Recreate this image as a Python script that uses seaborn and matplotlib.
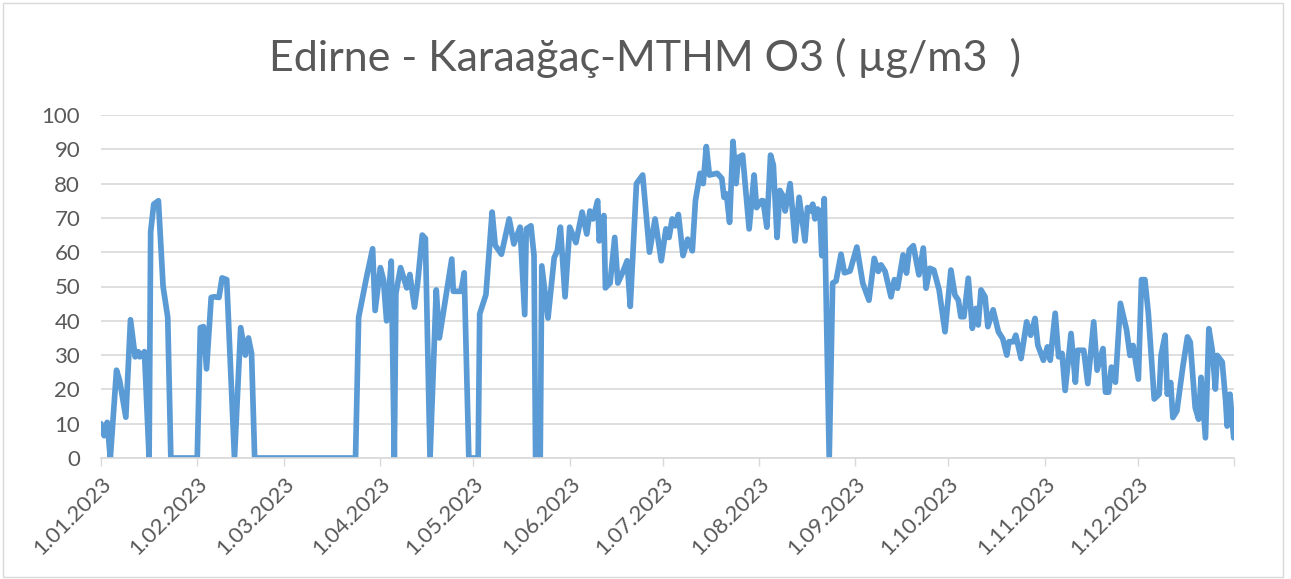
import matplotlib
matplotlib.use("Agg")
import matplotlib.pyplot as plt
import matplotlib.patches as mpatches
import seaborn as sns
import pandas as pd
import numpy as np

title = "Edirne - Karaağaç-MTHM O3 ( µg/m3  )"

# day offset from 1 Jan 2023, value (µg/m3)
days = [0, 1, 2, 3, 5, 6, 8, 9.5, 11, 12, 12.5, 14, 15.5, 16, 17, 18.5, 20, 21.5, 22.5,
        31, 32, 33, 34, 35.5, 36.5, 38, 39, 40.5, 43, 45, 46.5, 47.5, 48.5, 49.5,
        82, 83, 85.5, 87.5, 88.3, 90, 91, 92, 93.5, 94.5, 95, 96.5, 98.5, 99.5, 101, 102,
        103.5, 104.5, 106, 108, 109, 113, 113.5, 116, 117, 118.5, 121.5, 122, 124, 126, 127,
        129, 131.5, 133, 135, 136.5, 137, 138.5, 139.5, 140, 141.5, 142, 144, 146, 147, 148,
        149.5, 151, 153, 155, 156.5, 157.5, 158.5, 160, 160.5, 162, 162.5, 164, 165.5, 166.5,
        168, 169.5, 170.5, 172.5, 174.5, 176.7, 178.5, 180.5, 182, 183, 184, 185, 186, 187.5,
        189, 190.5, 191.5, 193, 194, 195, 196, 198.5, 200, 200.7, 201.5, 202.5, 203.6, 204.6,
        205.3, 206.7, 208.8, 210.4, 211.2, 212.8, 213.3, 214.5, 215.7, 216.6, 217.8, 218.7,
        219.6, 220.4, 222, 223.6, 224.9, 226.8, 227.6, 228.4, 229.3, 230, 230.8, 231.6, 232.2,
        233, 234.6, 235.7, 236.8, 238.4, 239.5, 241.3, 243.5, 245.4, 247.4, 249.1, 250.4,
        251.3, 252.6, 254.5, 255.6, 256.6, 258.4, 259.5, 260.4, 261.7, 263.5, 264.9, 265.8,
        267, 268.3, 270, 271.9, 273.8, 275.1, 276.2, 277, 278, 279.4, 280.7, 281.8, 282.6,
        283.5, 284.8, 285.7, 287.4, 289.1, 290.5, 291.8, 292.5, 293.9, 294.7, 296.4, 298.2,
        299.5, 300.9, 301.8, 303.6, 304.9, 305.8, 307.4, 308.5, 309.6, 310.6, 312.5, 313.9,
        314.6, 316.6, 317.9, 319.8, 320.9, 322.8, 323.6, 324.6, 325.5, 326.8, 328.4, 330.4,
        331.5, 332.5, 334.2, 335.2, 336.3, 337.4, 339.3, 340.9, 341.5, 342.8, 343.5, 344.6,
        345.3, 346.6, 348.5, 350, 350.9, 352.5, 353.6, 354.4, 355.8, 356.9, 358, 359, 359.6,
        361.2, 362.3, 362.8, 363.7, 364.9]
o3 = [10, 6.5, 10.4, 0, 25.6, 22.6, 11.9, 40.3, 29.5, 31, 29.5, 31, 0, 66, 74, 75, 50, 41, 0,
      0, 38, 38.3, 26, 46.8, 47, 46.8, 52.5, 52, 0, 38, 30, 35, 30.5, 0,
      0, 41, 52.5, 61, 43, 55.5, 52, 40, 57.4, 0, 48, 55.5, 49.6, 53.5, 44, 51,
      65, 64, 0, 49, 35, 58, 48.6, 48.6, 54, 0, 0, 42, 47.6, 71.7, 62,
      59.4, 69.7, 62.4, 67.3, 41.8, 66.8, 67.7, 59, 0, 0, 56, 40.8, 58.4, 60.4, 67.3,
      47, 67.3, 62.8, 71.7, 65.3, 72, 69.7, 75, 63.3, 70.7, 49.6, 51, 64.3, 51,
      54, 57.5, 44.2, 80, 82.5, 60, 69.7, 57.5, 66.8, 64.3, 69.7, 67.7, 71, 59,
      63.8, 60.4, 75, 83, 80, 90.8, 82.5, 83, 81.5, 76, 77, 68.7, 92.3, 80,
      87.6, 88.3, 66.8, 82.5, 73, 75, 75, 67.3, 88.3, 85.4, 64.3, 78,
      76.6, 72, 80, 63.3, 76, 63.3, 73, 72, 74, 69.7, 72.6, 72, 59,
      75.6, 0, 51, 51.6, 59.4, 54, 54.5, 61.5, 51, 46, 58.2, 54.4,
      56.3, 54.4, 47, 52, 49.5, 59.2, 53.9, 60.7, 61.9, 53.4, 61.2, 49.5,
      55.3, 54.8, 49, 36.8, 54.8, 47.5, 46, 41.2, 41.2, 52.4, 37.8, 43.6, 38.8,
      49, 47, 38.3, 43.2, 36.8, 34.8, 30, 33.9, 33.9, 35.8, 29, 39.7,
      35.8, 40.7, 32.9, 28.5, 32.4, 28.5, 42.2, 29.5, 30.5, 19.7, 36.3, 22.1,
      31.4, 31.4, 21.7, 39.7, 25.6, 31.9, 19.2, 19.2, 26.5, 22.1, 45.1, 37.3,
      29.9, 32.8, 23, 52, 52, 42.2, 17.2, 18.6, 29.9, 35.8, 18.6, 22,
      11.8, 13.7, 26.5, 35.3, 33.8, 14.7, 11.3, 23.5, 5.9, 37.7, 31.4, 20.1, 29.9,
      28, 16.7, 9.3, 18.6, 5.9]

tick_labels = [f"1.{m:02d}.2023" for m in range(1, 13)]

start = pd.Timestamp("2023-01-01")
df = pd.DataFrame({"date": start + pd.to_timedelta(days, unit="D"), "o3": o3})

sns.set_theme(style="white")
plt.rcParams["font.family"] = ["Lato", "DejaVu Sans"]

txt = "#595959"
fig = plt.figure(figsize=(12.91, 5.79), dpi=100)
ax = fig.add_axes([101 / 1291, 1 - 458 / 579, (1234 - 101) / 1291, (458 - 115) / 579])

sns.lineplot(data=df, x="date", y="o3", ax=ax, color="#5B9BD5", linewidth=4.1)

ax.set_ylim(0, 100)
ax.set_yticks(range(0, 101, 10))
ax.set_xlim(start, pd.Timestamp("2024-01-01"))
ticks = [pd.Timestamp(2023, m, 1) for m in range(1, 13)] + [pd.Timestamp("2024-01-01")]
ax.set_xticks(ticks)
ax.set_xticklabels(tick_labels + [""], rotation=45, ha="right", va="top",
                   rotation_mode="anchor", fontsize=16, color=txt)
ax.tick_params(axis="x", length=6, width=1, color="#d9d9d9", direction="out", pad=5,
               bottom=True)
ax.tick_params(axis="y", length=0, labelsize=16, labelcolor=txt, pad=15)
ax.grid(axis="y", color="#d9d9d9", linewidth=1.2)
ax.set_axisbelow(True)
for s in ["top", "right", "left"]:
    ax.spines[s].set_visible(False)
ax.spines["bottom"].set_color("#d9d9d9")
ax.spines["bottom"].set_linewidth(1.2)
ax.set_xlabel("")
ax.set_ylabel("")

fig.text(0.4996, 1 - 58 / 579, title, ha="center", va="center", fontsize=31, color=txt)

fig.patches.append(mpatches.Rectangle((3 / 1291, 2 / 579), 1280 / 1291, 574 / 579,
                                      transform=fig.transFigure, fill=False,
                                      edgecolor="#d9d9d9", linewidth=1))

fig.savefig("out.png", dpi=100)
